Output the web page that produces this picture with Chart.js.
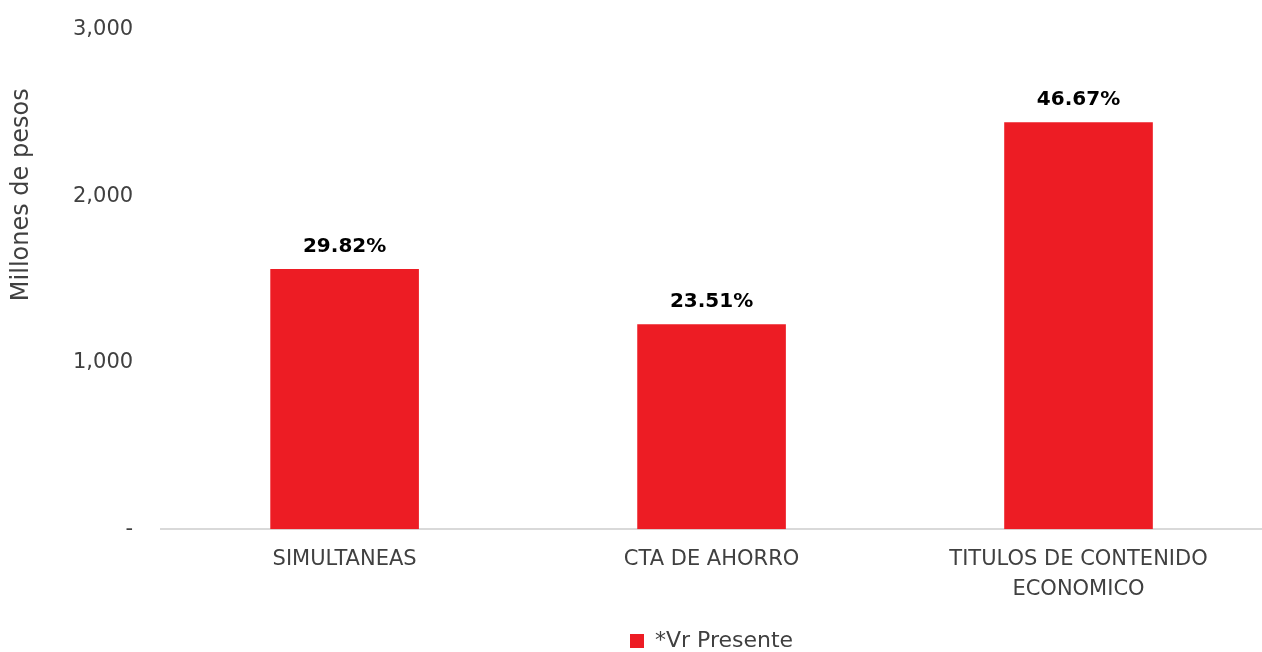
<!DOCTYPE html>
<html>
<head>
<meta charset="utf-8">
<script src="https://cdn.jsdelivr.net/npm/chart.js@4"></script>
<style>
  body { margin: 0; background: #fff; }
  #wrap { width: 1262px; height: 652px; }
</style>
</head>
<body>
<div id="wrap"><canvas id="barChart" width="1262" height="652"></canvas></div>
<script>
var categories = ['SIMULTANEAS', 'CTA DE AHORRO', ['TITULOS DE CONTENIDO', 'ECONOMICO']];
var vrPresente = [1563, 1232, 2446];
var shareLabels = ['29.82%', '23.51%', '46.67%'];
var yTicks = [0, 1000, 2000, 3000];
var yTitle = 'Millones de pesos';

var fontFamily = '"DejaVu Sans", sans-serif';

// percentage above each bar + the y title (sits high, like the original)
var barLabels = {
  id: 'barLabels',
  afterDatasetsDraw: function(chart) {
    var ctx = chart.ctx;
    var meta = chart.getDatasetMeta(0);
    ctx.save();
    ctx.font = 'bold 20px ' + fontFamily;
    ctx.fillStyle = '#000';
    ctx.textAlign = 'center';
    ctx.textBaseline = 'bottom';
    meta.data.forEach(function(bar, i) {
      ctx.fillText(shareLabels[i], bar.x, bar.y - 12);
    });
    ctx.restore();

    var area = chart.chartArea;
    ctx.save();
    ctx.translate(22, area.top + (area.bottom - area.top) * 0.33);
    ctx.rotate(-Math.PI / 2);
    ctx.font = '24px ' + fontFamily;
    ctx.fillStyle = '#404040';
    ctx.textAlign = 'center';
    ctx.textBaseline = 'middle';
    ctx.fillText(yTitle, 0, 0);
    ctx.restore();
  }
};

function BuildBarChart() {
  var ctx = document.getElementById('barChart');
  var barChart = new Chart(ctx, {
    type: 'bar',
    data: {
      labels: categories,
      datasets: [{
        label: '*Vr Presente',
        data: vrPresente,
        backgroundColor: '#ED1C24',
        borderWidth: 0,
        barPercentage: 0.405,
        categoryPercentage: 1
      }]
    },
    options: {
      responsive: false,
      animation: false,
      layout: { padding: { top: 30, right: 0, left: 45, bottom: -10 } },
      plugins: {
        legend: {
          position: 'bottom',
          fullSize: false,
          labels: {
            color: '#404040',
            font: { family: fontFamily, size: 22 },
            boxWidth: 14,
            boxHeight: 14,
            padding: 2
          }
        },
        tooltip: { enabled: false }
      },
      scales: {
        x: {
          grid: { display: false, drawTicks: false },
          border: { display: true, color: '#d9d9d9', width: 2 },
          afterFit: function(axis) { axis.height += 8; },
          ticks: {
            color: '#404040',
            font: { family: fontFamily, size: 21, lineHeight: 1.4 },
            padding: 16,
            maxRotation: 0
          }
        },
        y: {
          min: 0,
          max: 3000,
          grid: { display: false, drawTicks: false },
          border: { display: false },
          afterBuildTicks: function(axis) {
            axis.ticks = yTicks.map(function(v) { return { value: v }; });
          },
          afterFit: function(axis) { axis.paddingTop = 0; axis.paddingBottom = 0; },
          ticks: {
            color: '#404040',
            font: { family: fontFamily, size: 21 },
            padding: 28,
            callback: function(v) {
              return v === 0 ? '-' : v.toLocaleString('en-US');
            }
          }
        }
      }
    },
    plugins: [barLabels]
  });
}

BuildBarChart();
</script>
</body>
</html>
